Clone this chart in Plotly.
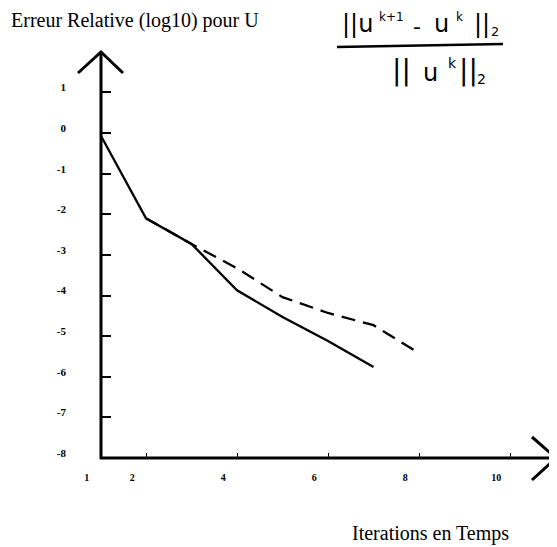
import plotly.graph_objects as go

# ---- data ----
solid_x = [1, 2, 3, 4, 5, 6, 7]
solid_y = [-0.05, -2.1, -2.73, -3.87, -4.53, -5.12, -5.76]
dash_x = [2, 3, 4, 5, 6, 7, 8]
dash_y = [-2.1, -2.73, -3.33, -4.04, -4.43, -4.73, -5.42]

x_ticks = [1, 2, 4, 6, 8, 10]
x_tick_labels = ["1", "2", "4", "6", "8", "10"]
x_tick_marks = [2, 4, 6, 8, 10]
y_ticks = [1, 0, -1, -2, -3, -4, -5, -6, -7, -8]
y_tick_labels = ["1", "0", "-1", "-2", "-3", "-4", "-5", "-6", "-7", "-8"]
y_tick_marks = [1, 0, -1, -2, -3, -4, -5, -6, -7]

title_text = "Erreur Relative (log10) pour U"
xlabel_text = "Iterations en Temps"
# handwritten formula ||u^(k+1) - u^k||_2 / ||u^k||_2, as text pieces: (text, x, y, size)
num_pieces = [("||u", 357, 24, 24), ("k+1", 391, 17, 12), ("-", 417, 26, 22),
              ("u", 441, 24, 24), ("k", 459, 17, 12), ("||", 482, 24, 24), ("2", 495, 31, 13)]
den_pieces = [("||", 401, 71, 28), ("u", 430, 73, 24), ("k", 452, 63, 14),
              ("||", 468, 71, 28), ("2", 481, 79, 14)]

# ---- layout geometry (page coordinates; the page body has an 8px margin) ----
OFF = 8
W, H = 557 - OFF, 547 - OFF
ML, MR, MT, MB = 52, 0, 22, 52
PW, PH = W - ML - MR, H - MT - MB


def px(xp):
    return (xp - OFF - ML) / PW


def py(yp):
    return (H - MB - (yp - OFF)) / PH


# data <-> page pixel mapping: x=1 at 100.5px, 45.5px/unit ; y=0 at 133px, 40.625px/unit
def inv_x(xp):
    return 1 + (xp - 100.5) / 45.5


def inv_y(yp):
    return (133 - yp) / 40.625


X_RANGE = [inv_x(OFF + ML), inv_x(OFF + ML + PW)]
Y_RANGE = [inv_y(OFF + MT + PH), inv_y(OFF + MT)]
serif = "Liberation Serif"

fig = go.Figure()
fig.add_trace(go.Scatter(x=solid_x, y=solid_y, mode="lines",
                         line=dict(color="black", width=2.3), showlegend=False,
                         cliponaxis=False))
fig.add_trace(go.Scatter(x=dash_x, y=dash_y, mode="lines",
                         line=dict(color="black", width=2.3, dash="14px,8px"),
                         showlegend=False, cliponaxis=False))

shapes = []
line_style = dict(color="black", width=3)
# axes lines
shapes.append(dict(type="line", xref="paper", yref="paper", x0=px(101), x1=px(101),
                   y0=py(459), y1=py(52), line=line_style))
shapes.append(dict(type="line", xref="paper", yref="paper", x0=px(100), x1=px(556),
                   y0=py(458), y1=py(458), line=line_style))
# arrow heads
shapes.append(dict(type="path", xref="paper", yref="paper",
                   path=f"M {px(78)},{py(73)} L {px(101)},{py(52)} L {px(123)},{py(73)}",
                   line=line_style))
shapes.append(dict(type="path", xref="paper", yref="paper",
                   path=f"M {px(532)},{py(437)} L {px(556)},{py(458)} L {px(532)},{py(480)}",
                   line=line_style))
# fraction bar
shapes.append(dict(type="line", xref="paper", yref="paper", x0=px(337), x1=px(503),
                   y0=py(47), y1=py(44), line=dict(color="black", width=2.5)))

annotations = [
    dict(text=title_text, xref="paper", yref="paper", x=px(9), y=py(20),
         xanchor="left", yanchor="middle", showarrow=False,
         font=dict(family=serif, size=20, color="black")),
    dict(text=xlabel_text, xref="paper", yref="paper", x=px(511), y=py(533),
         xanchor="right", yanchor="middle", showarrow=False,
         font=dict(family=serif, size=20, color="black")),
]
for t, xx, yy, sz in num_pieces + den_pieces:
    annotations.append(dict(text=t, xref="paper", yref="paper", x=px(xx), y=py(yy),
                            xanchor="center", yanchor="middle", showarrow=False,
                            borderpad=0,
                            font=dict(family="DejaVu Sans", size=sz, color="black")))

fig.update_layout(
    width=W, height=H,
    margin=dict(l=ML, r=MR, t=MT, b=MB),
    paper_bgcolor="white", plot_bgcolor="white",
    shapes=shapes, annotations=annotations,
    xaxis=dict(range=X_RANGE, anchor="free", position=py(458),
               tickmode="array", tickvals=[v - 0.3 for v in x_ticks], ticktext=x_tick_labels,
               ticks="", showline=False, showgrid=False, zeroline=False,
               ticklabelstandoff=12,
               tickfont=dict(family=serif, size=10, color="black", weight="bold"),
               minor=dict(tickmode="array", tickvals=x_tick_marks, ticks="inside",
                          ticklen=5, tickwidth=1, tickcolor="black", showgrid=False)),
    yaxis=dict(range=Y_RANGE, anchor="free", position=px(101),
               tickmode="array", tickvals=[v + 0.12 for v in y_ticks], ticktext=y_tick_labels,
               ticks="", showline=False, showgrid=False, zeroline=False,
               ticklabelstandoff=35,
               tickfont=dict(family=serif, size=11, color="black", weight="bold"),
               minor=dict(tickmode="array", tickvals=y_tick_marks, ticks="inside",
                          ticklen=9, tickwidth=2, tickcolor="black", showgrid=False)),
)

fig.write_html("out.html")
